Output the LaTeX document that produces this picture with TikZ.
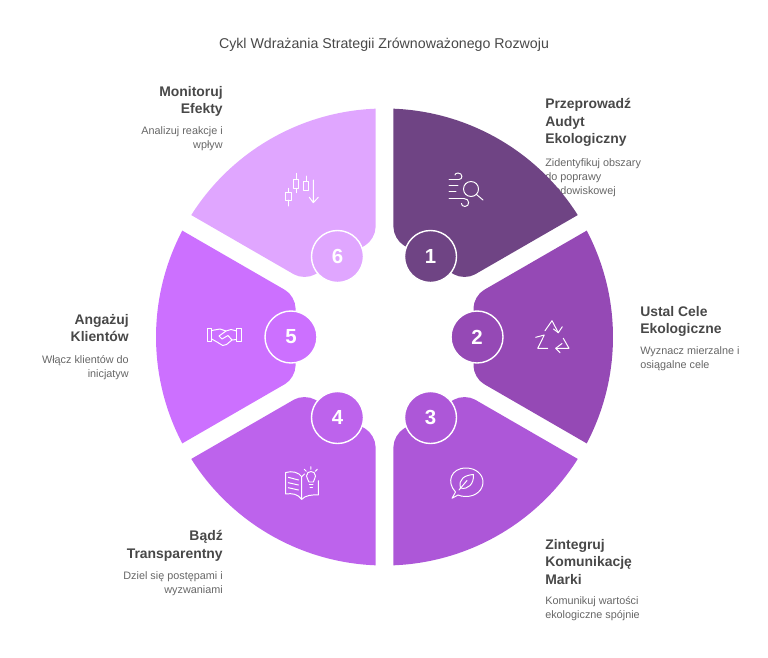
\documentclass[tikz,border=0pt]{standalone}
\usepackage{fontspec}
\setmainfont{Liberation Sans}
\definecolor{segone}{HTML}{6F4484}
\definecolor{segtwo}{HTML}{9549B5}
\definecolor{segthree}{HTML}{AD57D8}
\definecolor{segfour}{HTML}{BD63EC}
\definecolor{segfive}{HTML}{CC70FF}
\definecolor{segsix}{HTML}{E0A6FF}
\definecolor{headtext}{HTML}{484848}
\definecolor{bodygray}{HTML}{666666}
\tikzset{
  heading/.style={inner sep=0pt, text=headtext, font=\fontsize{9.9}{12.5}\selectfont\bfseries},
  bodytext/.style={inner sep=0pt, text=bodygray, font=\fontsize{7.7}{10}\selectfont},
  numcircle/.style={circle, draw=white, line width=1pt, minimum size=1.3cm, inner sep=0pt, text=white, font=\fontsize{14.5}{16}\selectfont\bfseries},
  iconline/.style={draw=white, line width=0.7pt, line cap=round, line join=round}
}
\begin{document}
\begin{tikzpicture}[x=0.025cm,y=-0.025cm]
  \useasboundingbox (0,0) rectangle (768,657);
  \node[inner sep=0pt, text=headtext, font=\fontsize{10.1}{12}\selectfont] (title) at (384,45) {Cykl Wdrażania Strategii Zrównoważonego Rozwoju};
  % labels go first, the first segment lies over its text
  \node[heading, anchor=north west, align=left] (head1) at (545,98) {Przeprowadź\\Audyt\\Ekologiczny};
  \node[bodytext, anchor=north west, align=left] (body1) at (545,158.5) {Zidentyfikuj obszary\\do poprawy\\środowiskowej};
  \node[heading, anchor=north west, align=left] (head2) at (640,306) {Ustal Cele\\Ekologiczne};
  \node[bodytext, anchor=north west, align=left] (body2) at (640,346.5) {Wyznacz mierzalne i\\osiągalne cele};
  \node[heading, anchor=north west, align=left] (head3) at (545,539) {Zintegruj\\Komunikację\\Marki};
  \node[bodytext, anchor=north west, align=left] (body3) at (545,596.5) {Komunikuj wartości\\ekologiczne spójnie};
  \node[heading, anchor=north east, align=right] (head4) at (223,530) {Bądź\\Transparentny};
  \node[bodytext, anchor=north east, align=right] (body4) at (223,571.5) {Dziel się postępami i\\wyzwaniami};
  \node[heading, anchor=north east, align=right] (head5) at (129,314) {Angażuj\\Klientów};
  \node[bodytext, anchor=north east, align=right] (body5) at (129,355.5) {Włącz klientów do\\inicjatyw};
  \node[heading, anchor=north east, align=right] (head6) at (223,86) {Monitoruj\\Efekty};
  \node[bodytext, anchor=north east, align=right] (body6) at (223,126.5) {Analizuj reakcje i\\wpływ};
  % segments and numbers
  \foreach \i/\ang/\cx/\cy/\col in {1/60/430.5/256.5/segone,2/0/477/337/segtwo,3/-60/430.5/417.5/segthree,4/-120/337.5/417.5/segfour,5/180/291/337/segfive,6/120/337.5/256.5/segsix}{
    \begin{scope}[shift={(384.5,337)},rotate=\ang]
      \fill[\col] (-27.75:228.5) [rounded corners=8.5pt] -- (89,-41) -- (89,41) [sharp corners] -- (27.75:228.5) arc[start angle=27.75,end angle=-27.75,radius=228.5] -- cycle;
    \end{scope}
    \node[numcircle, fill=\col] (num\i) at (\cx,\cy) {\i};
  }
  % wind and magnifier
  \draw[iconline] (449,179.5) -- (459,179.5) .. controls (463,179.5) and (463,173) .. (458,173) .. controls (456,173) and (455,174) .. (455,175);
  \draw[iconline] (449,185.5) -- (458,185.5) (449,191.5) -- (456,191.5);
  \draw[iconline] (449,198.5) -- (464,198.5) .. controls (470,198.5) and (470,206.5) .. (465,206.5) .. controls (462.5,206.5) and (461.5,205) .. (461.5,203.5);
  \draw[iconline] (471,189) circle[radius=7.5];
  \draw[iconline] (476.5,194.5) -- (483,200);
  % recycle
  \draw[iconline] (545,330.7) -- (552,320.7) -- (558.3,332.7) -- (562.3,326.7);
  \draw[iconline] (558.3,332.7) -- (553.5,329);
  \draw[iconline] (535.7,337.3) -- (544.3,335) -- (537.7,348.3) -- (547.7,348.3);
  \draw[iconline] (563.3,338.3) -- (569,348.3) -- (555.7,348.3) -- (560,352.7);
  \draw[iconline] (555.7,348.3) -- (562,343.5);
  % speech bubble and leaf
  \draw[iconline] (455.5,492) .. controls (446,482) and (451,468) .. (466,468) .. controls (476,468) and (483,474.5) .. (483,482) .. controls (483,490) and (476,496.5) .. (466,496.5) .. controls (463,496.5) and (460,496) .. (458,495) -- (452,498.3) -- cycle;
  \draw[iconline] (473.5,474.5) .. controls (465,475) and (458,479) .. (460.5,488) .. controls (468,490) and (474,484) .. (473.5,474.5) -- cycle;
  \draw[iconline] (459,490) -- (467,480.5);
  % book and bulb
  \draw[iconline] (301.7,476.7) .. controls (299,472.5) and (292,470.5) .. (285.7,472.5) -- (285.7,494) .. controls (292,493) and (298,494) .. (301.7,499.3) .. controls (305,495.5) and (312,494.5) .. (318.3,495) -- (318.3,480.7);
  \draw[iconline] (301.7,476.7) -- (301.7,499.3) (301.7,476.7) -- (304.5,474);
  \draw[iconline] (288.3,477.3) -- (298.5,480) (288.3,482.7) -- (298.5,485) (288.3,487.7) -- (298.5,490);
  \draw[iconline] (309,482) .. controls (309,479.5) and (306.5,479.5) .. (306.5,476) .. controls (306.5,470) and (315.5,470) .. (315.5,476) .. controls (315.5,479.5) and (313.3,479.5) .. (313.3,482) -- cycle;
  \draw[iconline] (309.3,484.5) -- (313,484.5) (310,487) -- (312.5,487);
  \draw[iconline] (310.8,466.7) -- (310.8,469.3) (304.3,469.3) -- (306.3,471.3) (317.3,469.3) -- (315.3,471.3);
  % handshake
  \draw[iconline] (207.3,328.3) rectangle (211.7,341.7);
  \draw[iconline] (236.7,328.3) rectangle (241,341.7);
  \draw[iconline] (211.7,330.5) -- (220,329) -- (226,331) -- (231,329.5) -- (236.7,331);
  \draw[iconline] (236.7,339.5) -- (232,340) -- (226.5,344.5) -- (222.7,345.5) -- (217,342) -- (211.7,339);
  \draw[iconline] (226,331) -- (219,336) -- (222,339) -- (228,335.5) -- (232,340);
  % candles and arrow
  \draw[iconline] (285.7,192.3) rectangle (291,200);
  \draw[iconline] (288.3,188.3) -- (288.3,192.3) (288.3,200) -- (288.3,206);
  \draw[iconline] (293.7,179) rectangle (298.7,188.3);
  \draw[iconline] (296.2,173.3) -- (296.2,179) (296.2,188.3) -- (296.2,192.7);
  \draw[iconline] (303.7,181) rectangle (308.3,190);
  \draw[iconline] (306,176) -- (306,181);
  \draw[iconline] (313.3,180) -- (313.3,202.7) (309.3,197.3) -- (313.3,202.7) -- (318.3,197.3);
\end{tikzpicture}
\end{document}
